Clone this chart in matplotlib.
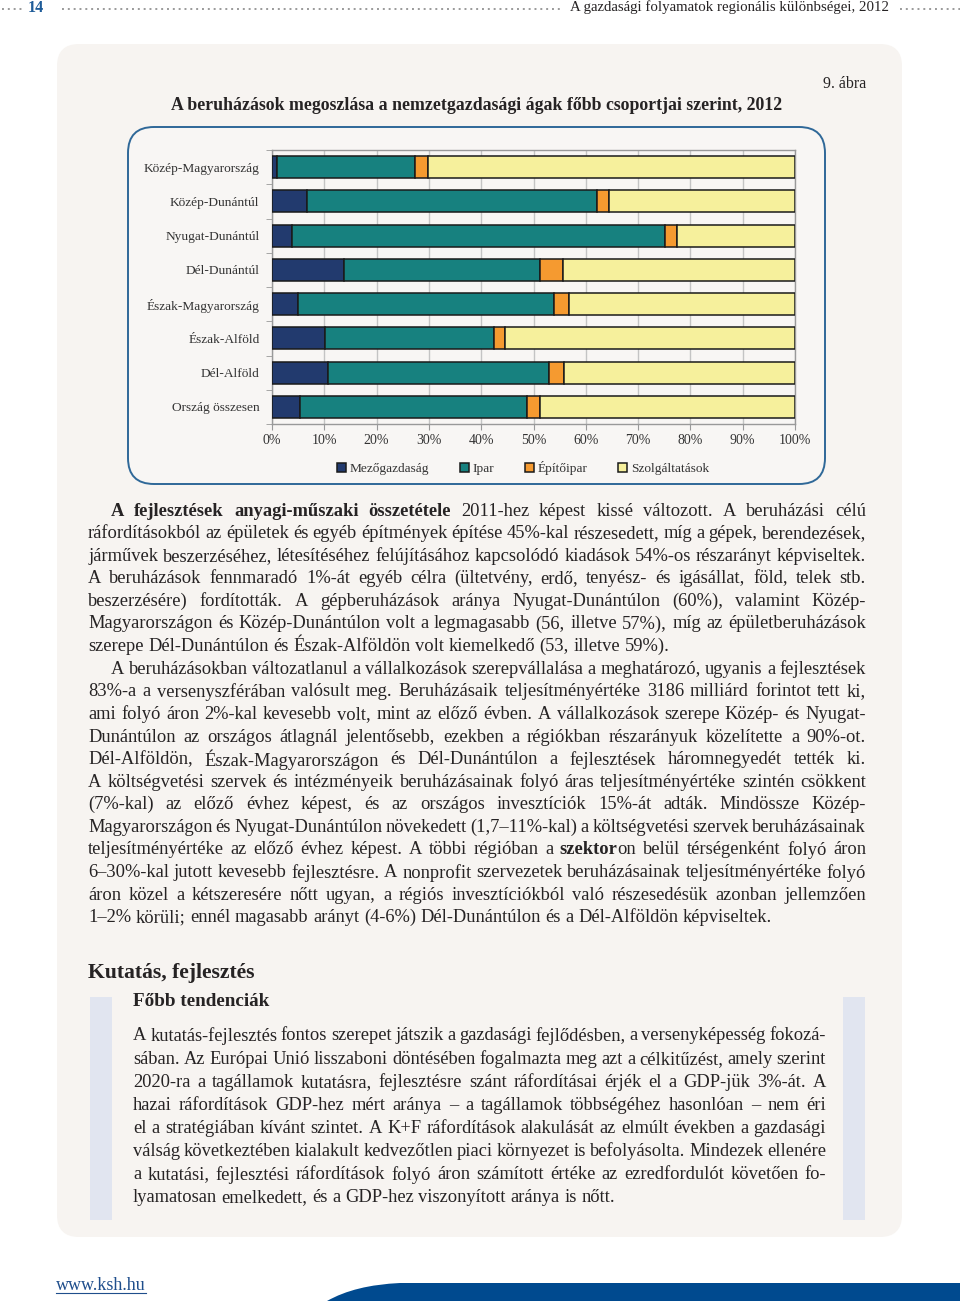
import numpy as np
import matplotlib
matplotlib.use('Agg')
import matplotlib.pyplot as plt
from matplotlib.patches import FancyBboxPatch, Rectangle, PathPatch
from matplotlib.path import Path

plt.rcParams['font.family'] = ['Liberation Serif', 'DejaVu Serif']

# chart data (percent of investments, 2012)
regions = ['Közép-Magyarország', 'Közép-Dunántúl', 'Nyugat-Dunántúl', 'Dél-Dunántúl',
           'Észak-Magyarország', 'Észak-Alföld', 'Dél-Alföld', 'Ország összesen']
mezogazdasag = [1.0, 6.7, 3.8, 13.8, 5.0, 10.2, 10.7, 5.3]
ipar = [26.4, 55.4, 71.4, 37.4, 49.0, 32.3, 42.2, 43.4]
epitoipar = [2.4, 2.4, 2.3, 4.4, 2.8, 2.1, 2.9, 2.5]
szolgaltatasok = [70.2, 35.5, 22.5, 44.4, 43.2, 55.4, 44.2, 48.8]
series_names = ['Mezőgazdaság', 'Ipar', 'Építőipar', 'Szolgáltatások']
series_colors = ['#223a6e', '#17817f', '#f59a30', '#f6f09c']
xticks = [0, 10, 20, 30, 40, 50, 60, 70, 80, 90, 100]

header_title = 'A gazdasági folyamatok regionális különbségei, 2012'
chart_title = 'A beruházások megoszlása a nemzetgazdasági ágak főbb csoportjai szerint, 2012'

body_lines = [
    '**A fejlesztések anyagi-műszaki összetétele** 2011-hez képest kissé változott. A beruházási célú',
    'ráfordításokból az épületek és egyéb építmények építése 45%-kal részesedett, míg a gépek, berendezések,',
    'járművek beszerzéséhez, létesítéséhez felújításához kapcsolódó kiadások 54%-os részarányt képviseltek.',
    'A beruházások fennmaradó 1%-át egyéb célra (ültetvény, erdő, tenyész- és igásállat, föld, telek stb.',
    'beszerzésére) fordították. A gépberuházások aránya Nyugat-Dunántúlon (60%), valamint Közép-',
    'Magyarországon és Közép-Dunántúlon volt a legmagasabb (56, illetve 57%), míg az épületberuházások',
    'szerepe Dél-Dunántúlon és Észak-Alföldön volt kiemelkedő (53, illetve 59%).',
    'A beruházásokban változatlanul a vállalkozások szerepvállalása a meghatározó, ugyanis a fejlesztések',
    '83%-a a versenyszférában valósult meg. Beruházásaik teljesítményértéke 3186 milliárd forintot tett ki,',
    'ami folyó áron 2%-kal kevesebb volt, mint az előző évben. A vállalkozások szerepe Közép- és Nyugat-',
    'Dunántúlon az országos átlagnál jelentősebb, ezekben a régiókban részarányuk közelítette a 90%-ot.',
    'Dél-Alföldön, Észak-Magyarországon és Dél-Dunántúlon a fejlesztések háromnegyedét tették ki.',
    'A költségvetési szervek és intézményeik beruházásainak folyó áras teljesítményértéke szintén csökkent',
    '(7%-kal) az előző évhez képest, és az országos invesztíciók 15%-át adták. Mindössze Közép-',
    'Magyarországon és Nyugat-Dunántúlon növekedett (1,7–11%-kal) a költségvetési szervek beruházásainak',
    'teljesítményértéke az előző évhez képest. A többi régióban a **szektor**on belül térségenként folyó áron',
    '6–30%-kal jutott kevesebb fejlesztésre. A nonprofit szervezetek beruházásainak teljesítményértéke folyó',
    'áron közel a kétszeresére nőtt ugyan, a régiós invesztíciókból való részesedésük azonban jellemzően',
    '1–2% körüli; ennél magasabb arányt (4-6%) Dél-Dunántúlon és a Dél-Alföldön képviseltek.',
]
body_indent = [0, 7]
body_last = [6, 18]

box_lines = [
    'A kutatás-fejlesztés fontos szerepet játszik a gazdasági fejlődésben, a versenyképesség fokozá-',
    'sában. Az Európai Unió lisszaboni döntésében fogalmazta meg azt a célkitűzést, amely szerint',
    '2020-ra a tagállamok kutatásra, fejlesztésre szánt ráfordításai érjék el a GDP-jük 3%-át.  A',
    'hazai ráfordítások GDP-hez mért aránya – a tagállamok többségéhez hasonlóan – nem éri',
    'el a stratégiában kívánt szintet. A K+F ráfordítások alakulását az elmúlt években a gazdasági',
    'válság következtében kialakult kedvezőtlen piaci környezet is befolyásolta. Mindezek ellenére',
    'a kutatási, fejlesztési ráfordítások folyó áron számított értéke az ezredfordulót követően fo-',
    'lyamatosan emelkedett, és a GDP-hez viszonyított aránya is nőtt.',
]

TXT = '#262324'
BODY_SIZE = 13.3

fig = plt.figure(figsize=(9.6, 13.08), dpi=100)
fig.patch.set_facecolor('white')
page = fig.add_axes([0, 0, 1, 1])
page.set_xlim(0, 960)
page.set_ylim(1308, 0)
page.axis('off')
renderer = fig.canvas.get_renderer()


def split_words(line):
    words = [[]]
    for i, seg in enumerate(line.split('**')):
        bold = i % 2 == 1
        for j, part in enumerate(seg.split(' ')):
            if j > 0:
                words.append([])
            if part:
                words[-1].append((part, bold))
    return [w for w in words if w]


def draw_line(line, x0, x1, y, size, justify=True):
    words = split_words(line)
    objs = []
    total = 0
    for w in words:
        group = []
        for txt, bold in w:
            t = page.text(0, y, txt, fontsize=size, color=TXT, va='center', ha='left',
                          fontweight='bold' if bold else 'normal')
            wd = t.get_window_extent(renderer).width
            group.append((t, wd))
            total += wd
        objs.append(group)
    if justify and len(objs) > 1:
        gap = (x1 - x0 - total) / (len(objs) - 1)
    else:
        gap = size * 0.25 * 100 / 72
    x = x0
    for group in objs:
        for t, wd in group:
            t.set_x(x)
            x += wd
        x += gap


# header
dots = dict(color='#9a9a9a', lw=1.4, linestyle=(0, (1, 2)))
page.plot([2, 25], [9, 9], **dots)
page.text(28, 8, '14', fontsize=11.5, fontweight='bold', color='#1f5c99', va='center')
page.plot([62, 560], [9, 9], **dots)
page.text(570, 7, header_title, fontsize=10.7, color=TXT, va='center')
page.plot([900, 960], [9, 9], **dots)

# grey panel
page.add_patch(FancyBboxPatch((57, 44), 845, 1193, boxstyle='round,pad=0,rounding_size=22',
                              facecolor='#f7f4f1', edgecolor='none'))
page.text(866, 84, '9. ábra', fontsize=11.5, color=TXT, ha='right', va='center')
page.text(477, 105, chart_title, fontsize=12.8, fontweight='bold', color=TXT, ha='center', va='center')

# chart frame
page.add_patch(FancyBboxPatch((128, 127), 697, 357, boxstyle='round,pad=0,rounding_size=26',
                              facecolor='#f8f6f4', edgecolor='#2f6898', lw=1.4))

# chart
ax = fig.add_axes([272 / 960, 1 - 424 / 1308, 523 / 960, 274 / 1308])
ax.set_facecolor('none')
y = np.arange(len(regions))
left = np.zeros(len(regions))
for vals, name, col in zip([mezogazdasag, ipar, epitoipar, szolgaltatasok], series_names, series_colors):
    ax.barh(y, vals, left=left, height=0.64, color=col, edgecolor='#1a1a1a', linewidth=1.1,
            label=name, zorder=3)
    left = left + np.array(vals)
ax.set_xlim(0, 100)
ax.set_ylim(len(regions) - 0.5, -0.5)
ax.set_xticks(xticks)
ax.set_xticklabels([f'{v}%' for v in xticks], fontsize=10, color='#333333')
ax.set_yticks(y)
ax.set_yticklabels(regions, fontsize=9.6, color='#333333')
ax.set_yticks(np.arange(len(regions) + 1) - 0.5, minor=True)
ax.tick_params(axis='y', which='major', length=0, pad=9)
ax.tick_params(axis='y', which='minor', length=4, color='#999999')
ax.tick_params(axis='x', length=4, color='#999999', pad=3)
ax.grid(axis='x', color='#c4c4c4', lw=1, zorder=0)
for s in ax.spines.values():
    s.set_color('#999999')
    s.set_linewidth(1)
ax.legend(loc='center', bbox_to_anchor=(523 / 960, 1 - 468 / 1308), bbox_transform=fig.transFigure,
          ncol=4, frameon=False, fontsize=9.6, handlelength=0.65, handleheight=0.65,
          handletextpad=0.3, columnspacing=2.3, labelcolor='#333333')

# body text
bx0, bx1 = 88, 866
for i, line in enumerate(body_lines):
    yy = 511 + i * 22.6
    x0 = 111 if i in body_indent else bx0
    draw_line(line, x0, bx1, yy, BODY_SIZE, justify=i not in body_last)

# section
page.text(88, 973, 'Kutatás, fejlesztés', fontsize=15.6, fontweight='bold', color=TXT, va='center')
page.add_patch(Rectangle((90, 997), 22, 223, facecolor='#e1e5f0', edgecolor='none'))
page.add_patch(Rectangle((843, 997), 22, 223, facecolor='#e1e5f0', edgecolor='none'))
page.text(133, 1002, 'Főbb tendenciák', fontsize=13.8, fontweight='bold', color=TXT, va='center')
for i, line in enumerate(box_lines):
    yy = 1036 + i * 23.1
    draw_line(line, 133, 826, yy, BODY_SIZE, justify=i != len(box_lines) - 1)

# footer
link = page.text(56, 1285, 'www.ksh.hu', fontsize=13, color='#1f4e8c', va='center')
lw_px = link.get_window_extent(renderer).width
page.plot([56, 56 + lw_px], [1293, 1293], color='#1f4e8c', lw=0.8)
verts = [(327, 1301), (355, 1285), (400, 1283), (960, 1283), (960, 1301), (327, 1301)]
codes = [Path.MOVETO, Path.CURVE3, Path.CURVE3, Path.LINETO, Path.LINETO, Path.CLOSEPOLY]
page.add_patch(PathPatch(Path(verts, codes), facecolor='#004a8f', edgecolor='none'))

fig.savefig('out.png', dpi=100, facecolor='white')
